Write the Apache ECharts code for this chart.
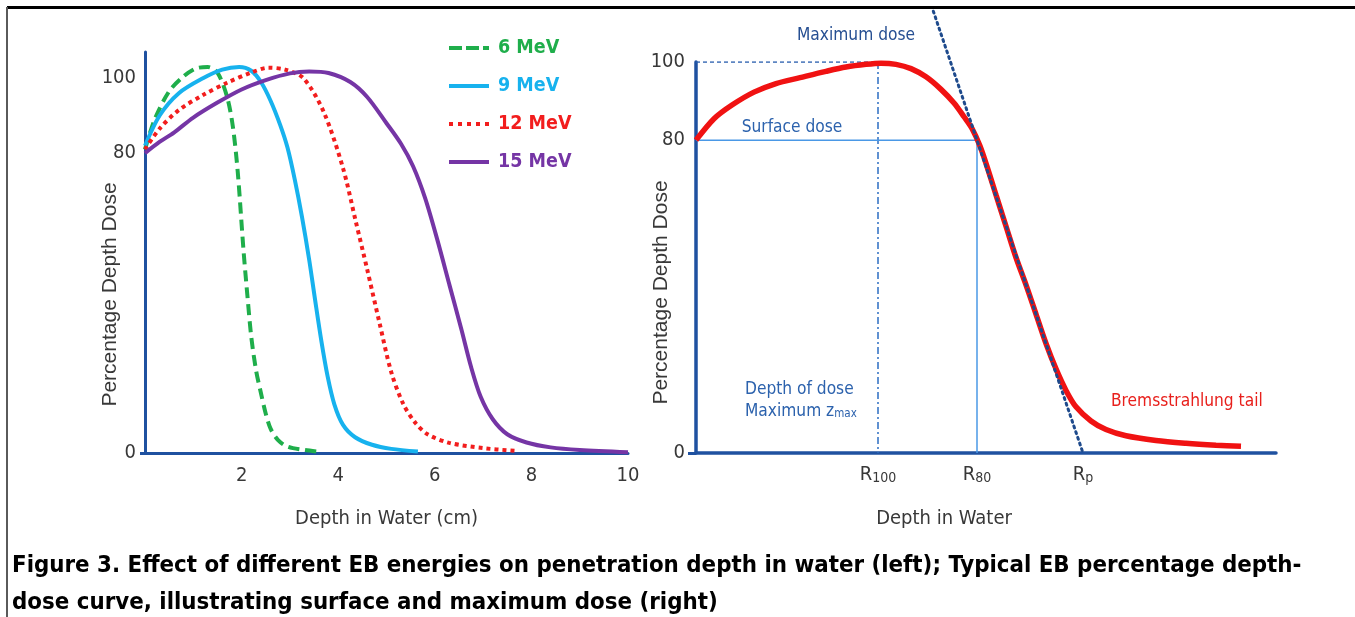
<!DOCTYPE html>
<html><head><meta charset="utf-8">
<script src="https://cdn.jsdelivr.net/npm/echarts@6/dist/echarts.min.js"></script>
<style>html,body{margin:0;padding:0;background:#fff}#c{width:1355px;height:617px}</style>
</head><body><div id="c"></div>
<script>
// ---------- Left chart data: depth (cm) vs percentage depth dose ----------
const energyNames = ['6 MeV', '9 MeV', '12 MeV', '15 MeV'];
const pdd6MeV = [[0,81],[0.2,89],[0.5,96.5],[0.8,100.5],[1.05,102.6],[1.3,103],[1.5,101.5],[1.7,95],[1.82,87],[1.92,75],[2.04,54],[2.12,42],[2.2,31],[2.3,22],[2.4,16],[2.5,10.5],[2.6,6.5],[2.75,3.5],[2.95,1.7],[3.3,0.8],[3.65,0.3]];
const pdd9MeV = [[0,82],[0.3,90],[0.7,96],[1.2,100],[1.6,102.3],[1.95,103],[2.2,102],[2.4,99],[2.6,94],[2.8,87.5],[2.95,81.5],[3.1,73],[3.25,63],[3.4,51.5],[3.52,41],[3.65,30],[3.78,20.5],[3.92,13],[4.1,7.5],[4.35,4.2],[4.7,2.2],[5.1,1.1],[5.65,0.4]];
const pdd12MeV = [[0,81],[0.3,86.5],[0.7,91.5],[1.2,95.5],[1.7,98.8],[2.2,101.5],[2.55,102.8],[2.9,102.3],[3.28,100],[3.7,91],[4.1,76],[4.36,62],[4.6,49],[4.85,35],[5.1,21.5],[5.35,13],[5.6,8],[5.85,5],[6.3,2.7],[7.0,1.3],[7.65,0.6]];
const pdd15MeV = [[0,80],[0.3,83],[0.6,85.5],[1.0,89.5],[1.5,93.5],[2.0,97],[2.5,99.5],[3.0,101.3],[3.4,101.8],[3.8,101.4],[4.25,99],[4.6,95],[5.0,88],[5.3,82.5],[5.55,76.5],[5.8,68],[6.05,57],[6.3,45],[6.55,33],[6.75,23],[6.95,15],[7.2,9],[7.5,5],[7.9,2.8],[8.4,1.5],[9.0,0.8],[10,0.2]];
const leftXTicks = [2, 4, 6, 8, 10];
const leftYTicks = [0, 80, 100];

// ---------- Right chart data: schematic depth-dose curve ----------
const typicalPdd = [[0,80],[0.18,85.5],[0.36,89],[0.58,92.3],[0.8,94.5],[1.04,96],[1.3,97.6],[1.5,98.7],[1.7,99.4],[1.85,99.7],[2.0,99.4],[2.15,98.3],[2.3,96.2],[2.45,93],[2.58,89.5],[2.68,86],[2.76,83],[2.84,78.5],[2.92,72.5],[3.0,66],[3.1,58],[3.2,50],[3.3,43],[3.4,35.5],[3.5,28],[3.6,21.5],[3.7,16],[3.8,11.8],[3.95,8.2],[4.1,6],[4.3,4.4],[4.6,3.2],[4.9,2.5],[5.2,2],[5.45,1.7]];
const rangeNames = ['R100', 'R80', 'Rp'];
const rangeSubs = ['100', '80', 'p'];
const rangeDepths = [1.82, 2.81, 3.87];
const rightYTicks = [0, 80, 100];
const maxDoseLevel = 100;
const surfaceDoseLevel = 80;
const tangentLine = [[2.373, 113], [3.87, 0]];

const NARROW = "'Liberation Sans Narrow','DejaVu Sans Condensed','Liberation Sans',Arial,sans-serif";
const REG = "'Liberation Sans',Arial,sans-serif";
const AX = '#1f51a0';
const TXT = '#383838';
const energyColors = ['#1fae4b', '#17b2ee', '#f21d1d', '#7535a5'];
const energyDash = [[11, 6], 'solid', [4, 4], 'solid'];
const energyIcons = [
  'path://M0,0h13v4h-13z M17,0h13v4h-13z M34,0h6v4h-6z',
  'path://M0,0h40v4h-40z',
  'path://M0,0h4v4h-4z M9,0h4v4h-4z M18,0h4v4h-4z M27,0h4v4h-4z M36,0h4v4h-4z',
  'path://M0,0h40v4h-40z'
];
const energyData = [pdd6MeV, pdd9MeV, pdd12MeV, pdd15MeV];

const chart = echarts.init(document.getElementById('c'), null, {renderer: 'canvas'});

const seriesLeft = energyNames.map((n, i) => ({
  name: n, type: 'line', xAxisIndex: 0, yAxisIndex: 0, data: energyData[i],
  symbol: 'none', smooth: 0.3,
  lineStyle: {color: energyColors[i], width: 4, type: energyDash[i], cap: 'butt'},
  itemStyle: {color: energyColors[i]}, z: 3
}));

const rightR100 = rangeDepths[0], rightR80 = rangeDepths[1];
const seriesRight = [
  {type: 'line', xAxisIndex: 1, yAxisIndex: 1, symbol: 'none', silent: true,
   data: [[0, maxDoseLevel], [rightR100, maxDoseLevel]],
   lineStyle: {color: '#2a5fae', width: 1.5, type: [4, 3]}, z: 2},
  {type: 'line', xAxisIndex: 1, yAxisIndex: 1, symbol: 'none', silent: true,
   data: [[rightR100, maxDoseLevel], [rightR100, 0]],
   lineStyle: {color: '#2b6cc2', width: 1.5, type: [7, 3, 2, 3]}, z: 2},
  {type: 'line', xAxisIndex: 1, yAxisIndex: 1, symbol: 'none', silent: true,
   data: [[0, surfaceDoseLevel], [rightR80, surfaceDoseLevel]],
   lineStyle: {color: '#4a98e6', width: 1.5}, z: 2},
  {type: 'line', xAxisIndex: 1, yAxisIndex: 1, symbol: 'none', silent: true,
   data: [[rightR80, surfaceDoseLevel], [rightR80, 0]],
   lineStyle: {color: '#4a98e6', width: 1.5}, z: 2},
  {type: 'line', xAxisIndex: 1, yAxisIndex: 1, symbol: 'none', smooth: 0.3,
   data: typicalPdd, lineStyle: {color: '#f01212', width: 5.5}, z: 3},
  {type: 'line', xAxisIndex: 1, yAxisIndex: 1, symbol: 'none', clip: false, silent: true,
   data: tangentLine, lineStyle: {color: '#1e4a8c', width: 3, type: [2, 4], cap: 'round'}, z: 4}
];

const tickLabelStyle = {fontFamily: NARROW, fontSize: 20, color: TXT};
const nameStyleXLeft = {fontFamily: NARROW, fontSize: 20, color: TXT};
const nameStyleXRight = {fontFamily: NARROW, fontSize: 20, color: TXT, padding: [0, 84, 0, 0]};
const nameStyleYLeft = {fontFamily: REG, fontSize: 21, color: TXT, padding: [0, 84, 0, 0]};
const nameStyleYRight = {fontFamily: REG, fontSize: 21, color: TXT, padding: [0, 70, 0, 0]};
const annoFont = '17.2px ' + NARROW;

chart.setOption({
  animation: false,
  backgroundColor: '#fff',
  grid: [
    {left: 145, top: 52, width: 483, height: 401},
    {left: 696, top: 62, width: 580, height: 391}
  ],
  legend: {
    orient: 'vertical', left: 444, top: 33, itemWidth: 40, itemHeight: 4, itemGap: 18,
    selectedMode: false,
    textStyle: {fontFamily: NARROW, fontSize: 19.5, fontWeight: 'bold', padding: [0, 0, 0, 4]},
    data: energyNames.map((n, i) => ({name: n, icon: energyIcons[i], itemStyle: {color: energyColors[i]}, textStyle: {color: energyColors[i]}}))
  },
  xAxis: [
    {gridIndex: 0, type: 'value', min: 0, max: 10, interval: 2,
     axisLine: {lineStyle: {color: AX, width: 3}}, axisTick: {show: false}, splitLine: {show: false},
     axisLabel: Object.assign({customValues: leftXTicks, margin: 13,
       formatter: v => leftXTicks.includes(v) ? String(v) : ''}, tickLabelStyle),
     name: 'Depth in Water (cm)', nameLocation: 'middle', nameGap: 56, nameMoveOverlap: false, nameTextStyle: nameStyleXLeft},
    {gridIndex: 1, type: 'value', min: 0, max: 5.8,
     axisLine: {lineStyle: {color: AX, width: 3.5}}, axisTick: {show: false}, splitLine: {show: false},
     axisLabel: {customValues: rangeDepths, margin: 12,
       formatter: v => { const i = rangeDepths.indexOf(v); return i < 0 ? '' : '{r|R}{s|' + rangeSubs[i] + '}'; },
       rich: {
         r: {fontFamily: NARROW, fontSize: 20, color: TXT, lineHeight: 20, verticalAlign: 'top'},
         s: {fontFamily: NARROW, fontSize: 14, color: TXT, lineHeight: 14, verticalAlign: 'bottom', padding: [9, 0, 0, 0]}
       }},
     name: 'Depth in Water', nameLocation: 'middle', nameGap: 56, nameMoveOverlap: false, nameTextStyle: nameStyleXRight}
  ],
  yAxis: [
    {gridIndex: 0, type: 'value', min: 0, max: 107, interval: 20,
     axisLine: {show: true, lineStyle: {color: AX, width: 3}},
     axisTick: {show: true, customValues: [0], length: 5, lineStyle: {color: AX, width: 3}},
     splitLine: {show: false},
     axisLabel: Object.assign({customValues: leftYTicks, margin: 9,
       formatter: v => leftYTicks.includes(v) ? String(v) : ''}, tickLabelStyle),
     name: 'Percentage Depth Dose', nameLocation: 'middle', nameGap: 24, nameMoveOverlap: false, nameTextStyle: nameStyleYLeft},
    {gridIndex: 1, type: 'value', min: 0, max: 100, interval: 20,
     axisLine: {show: true, lineStyle: {color: AX, width: 3.5}},
     axisTick: {show: true, customValues: [0], length: 8, lineStyle: {color: AX, width: 3}},
     splitLine: {show: false},
     axisLabel: Object.assign({customValues: rightYTicks, margin: 11,
       formatter: v => rightYTicks.includes(v) ? String(v) : ''}, tickLabelStyle),
     name: 'Percentage Depth Dose', nameLocation: 'middle', nameGap: 24, nameMoveOverlap: false, nameTextStyle: nameStyleYRight}
  ],
  series: seriesLeft.concat(seriesRight),
  graphic: [
    {type: 'rect', left: 7, top: 6, shape: {width: 1348, height: 3}, style: {fill: '#000'}, silent: true},
    {type: 'rect', left: 6, top: 7, shape: {width: 2, height: 610}, style: {fill: '#5a5a5a'}, silent: true},
    {type: 'text', x: 856, y: 36, silent: true,
     style: {text: 'Maximum dose', fill: '#264f92', font: annoFont, align: 'center', verticalAlign: 'middle'}},
    {type: 'text', x: 792, y: 128, silent: true,
     style: {text: 'Surface dose', fill: '#2c62ad', font: annoFont, align: 'center', verticalAlign: 'middle'}},
    {type: 'text', x: 745, y: 390, silent: true,
     style: {text: 'Depth of dose', fill: '#2c62ad', font: annoFont, align: 'left', verticalAlign: 'middle'}},
    {type: 'text', x: 745, y: 412, silent: true,
     style: {text: 'Maximum z{s|max}', fill: '#2c62ad', font: annoFont, align: 'left', verticalAlign: 'middle',
       rich: {s: {fontFamily: NARROW, fontSize: 11.5, fill: '#2c62ad', color: '#2c62ad', lineHeight: 12, verticalAlign: 'bottom', padding: [8, 0, 0, 0]}}}},
    {type: 'text', x: 1111, y: 402, silent: true,
     style: {text: 'Bremsstrahlung tail', fill: '#e8201c', font: annoFont, align: 'left', verticalAlign: 'middle'}},
    {type: 'text', x: 12, y: 566, silent: true,
     style: {text: 'Figure 3. Effect of different EB energies on penetration depth in water (left); Typical EB percentage depth-',
       fill: '#000', font: 'bold 23.8px ' + NARROW, align: 'left', verticalAlign: 'middle'}},
    {type: 'text', x: 12, y: 603, silent: true,
     style: {text: 'dose curve, illustrating surface and maximum dose (right)',
       fill: '#000', font: 'bold 23.8px ' + NARROW, align: 'left', verticalAlign: 'middle'}}
  ]
});
</script></body></html>
